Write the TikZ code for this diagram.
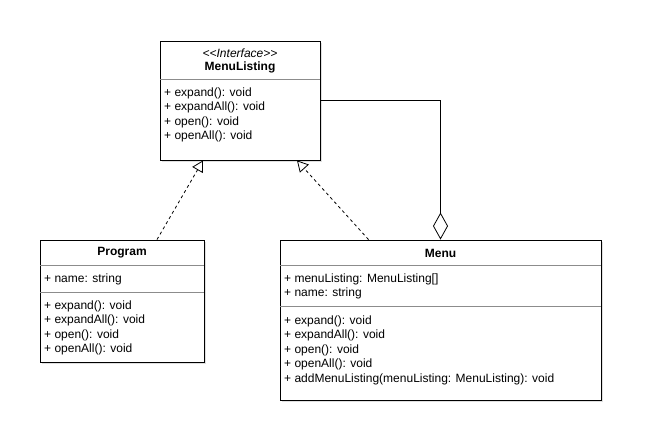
\documentclass[tikz,border=0pt]{standalone}
\usepackage{fontspec}
\setmainfont{Liberation Sans}
\usetikzlibrary{arrows.meta,shadows}

\tikzset{
	umlbox/.style={draw, fill=white, line width=0.9pt, inner sep=0pt,
		drop shadow={shadow xshift=1.5pt, shadow yshift=-1.5pt, opacity=0.25}},
	member/.style={anchor=west, inner sep=0pt, font=\fontsize{12}{14}\selectfont,
		text height=8.5pt, text depth=2.5pt},
	title/.style={inner sep=0pt, font=\fontsize{12}{14}\selectfont\bfseries},
	sepline/.style={draw=black!45, line width=0.6pt},
	realize/.style={line width=0.8pt, dash pattern=on 3pt off 3pt,
		-{Triangle[open,length=11pt,width=12pt]}},
	aggr/.style={line width=0.8pt, -{Diamond[open,length=27pt,width=15pt]}},
}

\begin{document}
\begin{tikzpicture}[x=1pt,y=-1pt]
	\useasboundingbox (0,0) rectangle (647,447);
	% interface
	\node[umlbox, minimum width=160pt, minimum height=119pt] (ml) at (240,100.5) {};
	\node[inner sep=0pt, font=\fontsize{12}{14}\selectfont\itshape] (ml-st) at (240,53) {<\kern0pt<Interface>\kern0pt>};
	\node[title] (ml-name) at (240,67) {MenuListing};
	\draw[sepline] (160,79) -- (320,79);
	\node[member] (ml-m1) at (164,93) {+ expand(): void};
	\node[member] (ml-m2) at (164,107.5) {+ expandAll(): void};
	\node[member] (ml-m3) at (164,122) {+ open(): void};
	\node[member] (ml-m4) at (164,136.5) {+ openAll(): void};
	%
	\node[umlbox, minimum width=164pt, minimum height=122pt] (prog) at (122,301) {};
	\node[title] (prog-name) at (122,253) {Program};
	\draw[sepline] (40,265) -- (204,265);
	\node[member] (prog-a1) at (44,279) {+ name: string};
	\draw[sepline] (40,292) -- (204,292);
	\node[member] (prog-m1) at (44,306) {+ expand(): void};
	\node[member] (prog-m2) at (44,320.5) {+ expandAll(): void};
	\node[member] (prog-m3) at (44,335) {+ open(): void};
	\node[member] (prog-m4) at (44,349.5) {+ openAll(): void};
	%
	\node[umlbox, minimum width=321pt, minimum height=160pt] (menu) at (440.5,320) {};
	\node[title] (menu-name) at (440.5,253) {Menu};
	\draw[sepline] (280,265) -- (601,265);
	\node[member] (menu-a1) at (284,279) {+ menuListing: MenuListing[]};
	\node[member] (menu-a2) at (284,293.5) {+ name: string};
	\draw[sepline] (280,306) -- (601,306);
	\node[member] (menu-m1) at (284,321) {+ expand(): void};
	\node[member] (menu-m2) at (284,335.5) {+ expandAll(): void};
	\node[member] (menu-m3) at (284,350) {+ open(): void};
	\node[member] (menu-m4) at (284,364.5) {+ openAll(): void};
	\node[member] (menu-m5) at (284,379) {+ addMenuListing(menuListing: MenuListing): void};
	%
	\draw[realize] ([xshift=35]prog.north) -- ([xshift=-37]ml.south);
	\draw[realize] ([xshift=-72]menu.north) -- ([xshift=57]ml.south);
	\draw[aggr] (ml.east) -| (menu.north);
\end{tikzpicture}
\end{document}
